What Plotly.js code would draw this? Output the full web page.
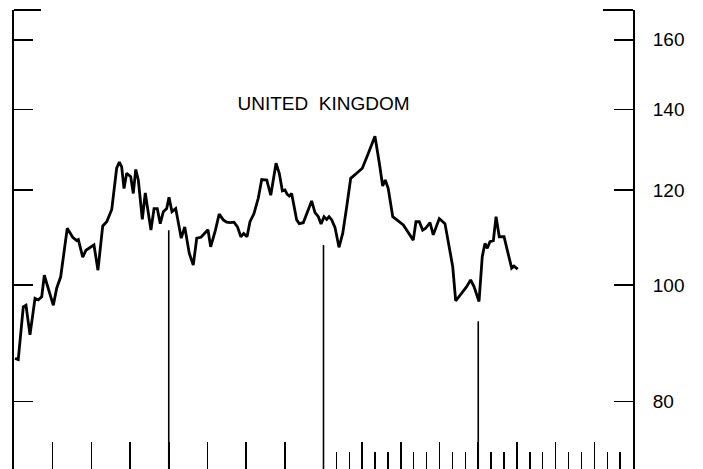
<!DOCTYPE html>
<html>
<head>
<meta charset="utf-8">
<script src="https://cdn.plot.ly/plotly-3.0.1.min.js"></script>
<style>
  html, body { margin: 0; padding: 0; background: #fff; }
  #chart { width: 703px; height: 469px; }
</style>
</head>
<body>
<div id="chart"></div>
<script>
// ---- data ----
// x: months from the start of the first year shown; y: index (log scale)
const months = [0.08,0.33,0.72,0.93,1.24,1.63,1.88,2.15,2.35,2.74,3.05,3.31,3.62,4.13,4.55,4.86,4.99,5.33,5.58,6.20,6.51,6.88,7.19,7.58,7.96,8.17,8.35,8.53,8.74,9.05,9.25,9.44,9.64,9.95,10.18,10.62,10.86,11.11,11.34,11.58,11.84,12.02,12.25,12.54,12.97,13.24,13.59,13.90,14.17,14.50,15.04,15.25,15.62,15.91,16.23,16.49,16.75,17.06,17.33,17.59,17.81,18.07,18.30,18.61,18.94,19.21,19.60,19.91,20.32,20.57,20.81,21.01,21.19,21.35,21.53,21.92,22.12,22.43,23.08,23.34,23.60,23.81,24.04,24.25,24.43,24.64,24.89,25.20,25.49,25.80,26.11,26.57,27.01,27.47,27.99,28.33,28.59,28.79,29.02,29.37,30.19,30.96,31.17,31.43,31.69,31.92,32.26,32.51,32.98,33.42,33.73,34.02,34.25,34.84,35.10,35.41,35.67,36.06,36.31,36.52,36.70,36.91,37.17,37.38,37.63,38.00,38.33,38.59,38.77,39.06];
const indexValues = [86.9,86.7,95.9,96.2,90.9,97.5,97.2,97.8,101.9,98.7,96.2,99.4,101.6,111.5,109.6,108.9,109.1,105.5,106.9,108.0,102.9,112.0,112.9,115.6,125.1,126.6,125.4,120.3,123.9,123.1,119.2,124.8,122.3,113.4,119.3,111.1,115.8,115.8,112.5,115.1,115.8,118.3,115.1,115.8,109.4,111.8,106.3,103.9,109.4,109.6,111.2,107.6,111.1,114.6,113.3,112.8,112.7,112.8,111.8,109.7,110.4,109.7,112.9,114.7,118.1,122.4,122.3,118.8,126.3,123.9,119.8,120.0,119.0,118.6,119.2,113.3,112.5,112.7,117.5,114.9,114.0,112.4,114.0,113.4,114.0,113.3,111.7,107.5,110.4,116.2,122.7,123.9,125.1,128.7,133.0,126.3,120.9,122.3,120.3,114.0,112.2,109.0,112.9,112.9,111.1,111.5,112.7,110.1,113.6,112.5,107.8,103.6,97.0,98.9,99.7,101.0,99.7,96.9,105.6,108.3,107.3,108.7,108.9,114.0,109.7,109.7,105.9,103.3,103.7,103.1];

// year-boundary marker lines: position (months) and top value
const markerMonths = [12, 24, 36];
const markerTops = [111.1, 108.0, 93.3];
const markerBottom = 60;

// axis ticks
const yTickVals = [80, 100, 120, 140, 160];
const yTickText = ['80', '100', '120', '140', '160'];
const quarterTicks = [3, 6, 9, 12, 15, 18, 21, 24, 27, 30, 33, 36, 39, 42, 45];
const monthTicks = [25, 26, 28, 29, 31, 32, 34, 35, 37, 38, 40, 41, 43, 44, 46, 47];
const xRange = [0, 48];
const yRange = [70.3, 169.4];

const titleText = 'UNITED\u00a0\u00a0KINGDOM';

// ---- build traces ----
const mx = [], my = [];
markerMonths.forEach((m, i) => {
  mx.push(m, m, null);
  my.push(markerTops[i], markerBottom, null);
});

const traces = [
  {
    x: months, y: indexValues, type: 'scatter', mode: 'lines',
    line: { color: '#000', width: 2.8 }, hoverinfo: 'skip', showlegend: false
  },
  {
    x: mx, y: my, type: 'scatter', mode: 'lines',
    line: { color: '#000', width: 1.6 }, hoverinfo: 'skip', showlegend: false
  }
];

const logR = yRange.map(v => Math.log10(v));

const layout = {
  width: 703, height: 469,
  margin: { l: 14, r: 70, t: 10, b: 0 },
  paper_bgcolor: '#fff', plot_bgcolor: '#fff',
  showlegend: false,
  font: { family: 'Arial, "Liberation Sans", sans-serif', color: '#000' },
  title: {
    text: titleText,
    font: { family: 'Arial, "Liberation Sans", sans-serif', size: 19, color: '#000' },
    xref: 'container', yref: 'container',
    x: 323.5 / 703, y: 1 - 103 / 469,
    xanchor: 'center', yanchor: 'middle'
  },
  xaxis: {
    range: xRange, showgrid: false, zeroline: false, showline: false,
    tickmode: 'array', tickvals: quarterTicks, showticklabels: false,
    ticks: 'inside', ticklen: 27, tickwidth: 1.6, tickcolor: '#000',
    minor: {
      tickmode: 'array', tickvals: monthTicks,
      ticks: 'inside', ticklen: 17, tickwidth: 1.4, tickcolor: '#000', showgrid: false
    },
    fixedrange: true
  },
  yaxis: {
    type: 'log', range: logR, side: 'right',
    showgrid: false, zeroline: false,
    showline: true, linewidth: 2, linecolor: '#000',
    tickmode: 'array', tickvals: yTickVals, ticktext: yTickText,
    ticks: 'inside', ticklen: 19, tickwidth: 1.8, tickcolor: '#000',
    ticklabelstandoff: 14,
    tickfont: { family: 'Arial, "Liberation Sans", sans-serif', size: 19, color: '#000' },
    fixedrange: true
  },
  yaxis2: {
    type: 'log', range: logR, side: 'left', overlaying: 'y',
    showgrid: false, zeroline: false,
    showline: true, linewidth: 2, linecolor: '#000',
    tickmode: 'array', tickvals: yTickVals, showticklabels: false,
    ticks: 'inside', ticklen: 19, tickwidth: 1.8, tickcolor: '#000',
    fixedrange: true
  },
  shapes: [
    { type: 'line', xref: 'paper', yref: 'paper', x0: 0, x1: 27 / 619, y0: 1, y1: 1,
      line: { color: '#000', width: 2 } },
    { type: 'line', xref: 'paper', yref: 'paper', x0: 1 - 30 / 619, x1: 1, y0: 1, y1: 1,
      line: { color: '#000', width: 2 } }
  ]
};

// a dummy trace on yaxis2 so the left axis is drawn
traces.push({ x: [null], y: [null], yaxis: 'y2', type: 'scatter', mode: 'lines',
  hoverinfo: 'skip', showlegend: false });

Plotly.newPlot('chart', traces, layout, { displayModeBar: false, staticPlot: true });
</script>
</body>
</html>
